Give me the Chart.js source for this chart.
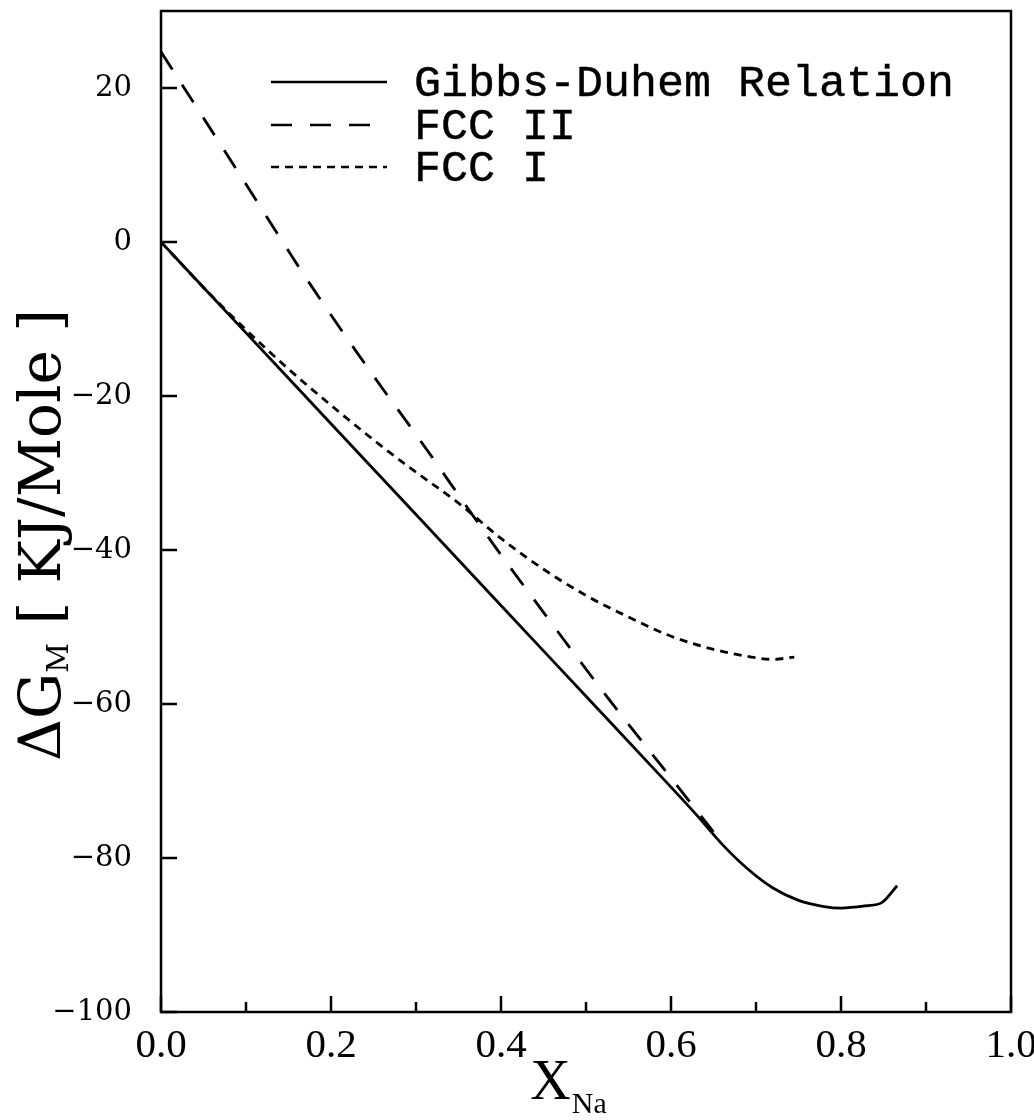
<!DOCTYPE html>
<html>
<head>
<meta charset="utf-8">
<script src="https://cdn.jsdelivr.net/npm/chart.js@4.4.0/dist/chart.umd.min.js"></script>
<style>
  body { margin: 0; background: #fff; }
  canvas { display: block; }
</style>
</head>
<body>
<canvas id="chart" width="1034" height="1120"></canvas>
<script>
// Data
const gibbsX = [0, 0.1, 0.2, 0.3, 0.4, 0.5, 0.6, 0.63, 0.66, 0.69, 0.72, 0.75, 0.78, 0.8, 0.83, 0.848, 0.866];
const gibbsY = [0, -11.8, -23.6, -35.4, -47.2, -59.0, -70.8, -74.4, -78.2, -81.4, -83.9, -85.5, -86.3, -86.5, -86.2, -85.8, -83.6];

const fcc2X = [0, 0.05, 0.1, 0.172, 0.25, 0.3, 0.39, 0.45, 0.525, 0.6, 0.65];
const fcc2Y = [24.7, 16.1, 7.5, -4.9, -17.4, -25.0, -39.1, -48.1, -59.1, -69.6, -76.6];

const fcc1X = [0, 0.05, 0.1, 0.15, 0.2, 0.25, 0.3, 0.35, 0.4, 0.45, 0.5, 0.55, 0.6, 0.65, 0.7, 0.72, 0.745];
const fcc1Y = [0, -5.9, -11.4, -16.5, -21.2, -25.7, -29.9, -33.9, -38.5, -42.5, -45.9, -48.7, -51.2, -52.9, -54.0, -54.2, -53.9];

const seriesLabels = ["Gibbs-Duhem Relation", "FCC II", "FCC I"];
const xTicks = [0, 0.2, 0.4, 0.6, 0.8, 1.0];
const xMinorTicks = [0.1, 0.3, 0.5, 0.7, 0.9];
const yTicks = [-100, -80, -60, -40, -20, 0, 20];

const toPoints = (xs, ys) => xs.map((x, i) => ({ x: x, y: ys[i] }));

// White page behind the chart
const background = {
  id: "background",
  beforeDraw(chart) {
    const ctx = chart.ctx;
    ctx.save();
    ctx.fillStyle = "#fff";
    ctx.fillRect(0, 0, chart.width, chart.height);
    ctx.restore();
  },
};

// Frame, inward ticks, legend and axis titles
const decorations = {
  id: "decorations",
  afterDraw(chart) {
    const ctx = chart.ctx;
    const area = chart.chartArea;
    const xs = chart.scales.x;
    const ys = chart.scales.y;
    ctx.save();
    ctx.strokeStyle = "#000";
    ctx.fillStyle = "#000";
    ctx.lineWidth = 2.5;
    ctx.strokeRect(area.left, area.top, area.right - area.left, area.bottom - area.top);

    ctx.beginPath();
    xTicks.forEach((v) => {
      const px = xs.getPixelForValue(v);
      ctx.moveTo(px, area.bottom);
      ctx.lineTo(px, area.bottom - 16);
    });
    xMinorTicks.forEach((v) => {
      const px = xs.getPixelForValue(v);
      ctx.moveTo(px, area.bottom);
      ctx.lineTo(px, area.bottom - 10);
    });
    yTicks.forEach((v) => {
      const py = ys.getPixelForValue(v);
      ctx.moveTo(area.left, py);
      ctx.lineTo(area.left + 16, py);
    });
    ctx.stroke();

    // legend
    const rows = [82, 125, 167];
    chart.data.datasets.forEach((ds, i) => {
      ctx.beginPath();
      ctx.lineWidth = 2.5;
      ctx.setLineDash(ds.borderDash || []);
      ctx.moveTo(271, rows[i]);
      ctx.lineTo(387, rows[i]);
      ctx.stroke();
      ctx.setLineDash([]);
      ctx.font = "45px 'Liberation Mono'";
      ctx.textBaseline = "middle";
      ctx.textAlign = "left";
      ctx.lineWidth = 0.4;
      ctx.fillText(ds.label, 414, rows[i] + 2);
      ctx.strokeText(ds.label, 414, rows[i] + 2);
    });

    // x title: X with subscript Na
    ctx.textBaseline = "alphabetic";
    ctx.font = "56px 'Liberation Serif'";
    const wX = ctx.measureText("X").width;
    ctx.font = "30px 'Liberation Serif'";
    const wNa = ctx.measureText("Na").width;
    const sx = 568 - (wX + wNa) / 2;
    ctx.font = "56px 'Liberation Serif'";
    ctx.fillText("X", sx, 1099);
    ctx.font = "30px 'Liberation Serif'";
    ctx.fillText("Na", sx + wX + 1, 1113);

    // y title: ΔG with subscript M, then unit
    ctx.translate(60, 535);
    ctx.rotate(-Math.PI / 2);
    const big = "58px 'DejaVu Serif'";
    const small = "29px 'DejaVu Serif'";
    const unit = " [ KJ/Mole ]";
    ctx.font = big;
    const wDG = ctx.measureText("ΔG").width;
    const wUnit = ctx.measureText(unit).width;
    ctx.font = small;
    const wM = ctx.measureText("M").width;
    const tx = -(wDG + wM + wUnit) / 2;
    ctx.font = big;
    ctx.fillText("ΔG", tx, 0);
    ctx.font = small;
    ctx.fillText("M", tx + wDG, 8);
    ctx.font = big;
    ctx.fillText(unit, tx + wDG + wM, 0);
    ctx.restore();
  },
};

const lineStyle = {
  borderColor: "#000",
  borderWidth: 2.8,
  pointRadius: 0,
  fill: false,
  cubicInterpolationMode: "monotone",
};

new Chart(document.getElementById("chart"), {
  type: "line",
  data: {
    datasets: [
      { ...lineStyle, label: seriesLabels[0], data: toPoints(gibbsX, gibbsY), borderDash: [] },
      { ...lineStyle, label: seriesLabels[1], data: toPoints(fcc2X, fcc2Y), borderDash: [21, 18] },
      { ...lineStyle, label: seriesLabels[2], data: toPoints(fcc1X, fcc1Y), borderDash: [8, 6] },
    ],
  },
  options: {
    responsive: false,
    devicePixelRatio: 1,
    animation: false,
    layout: { padding: { top: 11, right: 23, left: 0, bottom: 0 } },
    plugins: { legend: { display: false }, tooltip: { enabled: false } },
    scales: {
      x: {
        type: "linear",
        min: 0,
        max: 1,
        afterBuildTicks: (scale) => { scale.ticks = xTicks.map((v) => ({ value: v })); },
        afterFit: (scale) => {
          scale.height = 108;
          scale.paddingLeft = 0;
          scale.paddingRight = 0;
        },
        grid: { display: false, drawTicks: false },
        border: { display: false },
        ticks: {
          color: "#000",
          padding: 10,
          maxRotation: 0,
          font: { family: "Liberation Serif", size: 41 },
          callback: (v) => Number(v).toFixed(1),
        },
      },
      y: {
        type: "linear",
        min: -100,
        max: 30,
        afterBuildTicks: (scale) => { scale.ticks = yTicks.map((v) => ({ value: v })); },
        afterFit: (scale) => {
          scale.width = 161;
          scale.paddingTop = 0;
          scale.paddingBottom = 0;
        },
        grid: { display: false, drawTicks: false },
        border: { display: false },
        ticks: {
          color: "#000",
          padding: 29,
          font: { family: "DejaVu Serif", size: 29 },
          callback: (v) => (v < 0 ? "\u2212" + Math.abs(v) : String(v)),
        },
      },
    },
  },
  plugins: [background, decorations],
});
</script>
</body>
</html>
